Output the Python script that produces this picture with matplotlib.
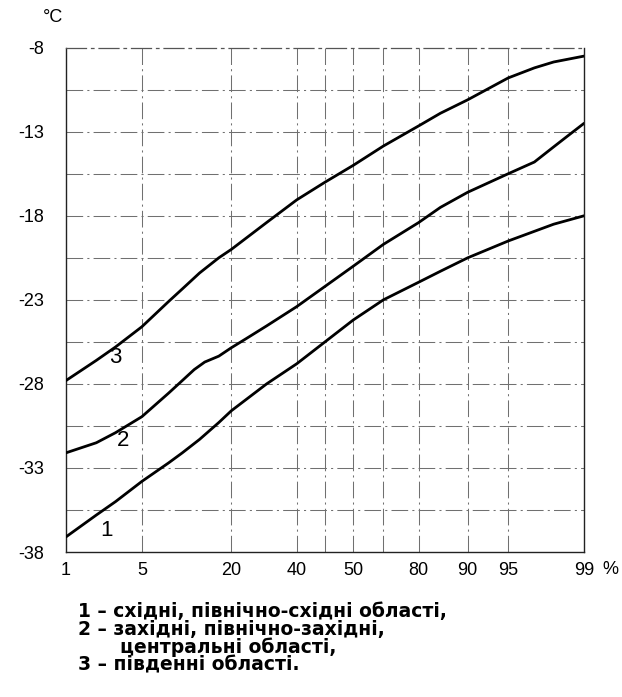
#!/usr/bin/env python3
# Temperature vs. probability (normal probability scale) for three regions

from statistics import NormalDist

import numpy
import matplotlib
matplotlib.use('Agg')
from matplotlib import pyplot as plt

# Probability, % and temperature, degC for each curve
prob_east = [1, 2, 3, 5, 8, 10, 13, 17, 20, 30, 40, 50, 60, 70, 80, 85, 90, 95, 98, 99]
t_east = [-37.1, -35.8, -35.0, -33.8, -32.7, -32.1, -31.3, -30.3, -29.6, -28.0,
          -26.8, -25.5, -24.2, -23.0, -21.95, -21.3, -20.5, -19.5, -18.5, -18.0]

prob_west = [1, 2, 3, 5, 8, 10, 12, 14, 17, 20, 24, 30, 40, 50, 60, 70, 80, 85,
             90, 95, 97, 98, 98.5, 99]
t_west = [-32.1, -31.5, -30.9, -29.95, -28.55, -27.8, -27.15, -26.7, -26.35, -25.85,
          -25.3, -24.55, -23.4, -22.2, -21.0, -19.7, -18.4, -17.5, -16.6, -15.5,
          -14.8, -13.9, -13.3, -12.5]

prob_south = [1, 2, 3, 5, 8, 10, 13, 17, 20, 30, 40, 50, 60, 70, 80, 85, 90, 95, 97, 98, 99]
t_south = [-27.8, -26.6, -25.8, -24.6, -23.1, -22.35, -21.4, -20.5, -20.0, -18.4,
           -17.05, -16.0, -15.0, -13.85, -12.65, -11.9, -11.1, -9.8, -9.2, -8.85, -8.5]

series = [('1', prob_east, t_east), ('2', prob_west, t_west), ('3', prob_south, t_south)]

# where the curve numbers sit (prob %, degC)
label_pos = {'1': (2.5, -36.7), '2': (3.5, -31.35), '3': (2.96, -26.4)}

grid_prob = [1, 5, 20, 40, 50, 60, 70, 80, 90, 95, 99]
tick_prob = [1, 5, 20, 40, 60, 80, 90, 95, 99]
tick_text = ['1', '5', '20', '40', '50', '80', '90', '95', '99']
y_ticks = [-38, -33, -28, -23, -18, -13, -8]
y_grid = numpy.arange(-38, -7.9, 2.5)

legend_lines = [
    (78, 611, '1 \u2013 східні, північно-східні області,'),
    (78, 629, '2 \u2013 західні, північно-західні,'),
    (120, 647, 'центральні області,'),
    (78, 665, '3 \u2013 південні області.'),
]

nd = NormalDist()


def pz(p):
    return nd.inv_cdf(p / 100.0)


W, H = 622, 697
plt.rcParams['font.family'] = ['Liberation Sans', 'DejaVu Sans']

fig = plt.figure(figsize=(W / 100, H / 100), dpi=100)
ax = fig.add_axes([66 / W, 1 - 552 / H, (584 - 66) / W, (552 - 47.7) / H])

gstyle = dict(color='#707070', linewidth=0.75, linestyle=(0, (16, 4, 2, 4)), zorder=1)
for p in grid_prob[1:-1]:
    ax.axvline(pz(p), **gstyle)
for t in y_grid[1:-1]:
    ax.axhline(t, **gstyle)

for name, probs, temps in series:
    z = [pz(p) for p in probs]
    ax.plot(z, temps, color='black', linewidth=2.0, solid_capstyle='round',
            solid_joinstyle='round', zorder=3)
    lp, lt = label_pos[name]
    ax.text(pz(lp), lt, name, fontsize=16, ha='center', va='center', zorder=4)

ax.set_xlim(pz(1), pz(99))
ax.set_ylim(-38, -8)
ax.set_xticks([pz(p) for p in tick_prob])
ax.set_xticklabels(tick_text)
ax.set_yticks(y_ticks)
ax.set_yticklabels([str(v) for v in y_ticks])
ax.tick_params(axis='both', length=0, labelsize=13)
ax.tick_params(axis='y', pad=16)
ax.tick_params(axis='x', pad=7)

for side in ['left', 'right', 'bottom']:
    ax.spines[side].set_color('#222222')
    ax.spines[side].set_linewidth(1.0)
ax.spines['top'].set_color('#555555')
ax.spines['top'].set_linewidth(0.9)
ax.spines['top'].set_linestyle((0, (16, 4, 2, 4)))

fig.text(53 / W, 1 - 18 / H, '°C', fontsize=13, ha='center', va='center')
fig.text(610 / W, 1 - 569 / H, '%', fontsize=13, ha='center', va='center')

for x, y, s in legend_lines:
    fig.text(x / W, 1 - y / H, s, fontsize=13.5, fontweight='bold',
             family=['DejaVu Sans'], ha='left', va='center')

fig.savefig('out.png', dpi=100)
